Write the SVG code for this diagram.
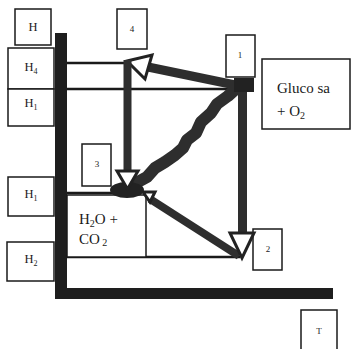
<svg xmlns="http://www.w3.org/2000/svg" width="351" height="349" viewBox="0 0 351 349">
<style>
.box{fill:#fff;stroke:#1a1a1a;stroke-width:1.5}
.lab{font-family:"Liberation Serif","Times New Roman",serif;fill:#1a1a1a}
.h{font-size:12.5px;text-anchor:middle}
.num{font-size:9px;text-anchor:middle}
.big{font-size:15px}
.thin{stroke:#1a1a1a;stroke-width:2.5;fill:none}
.bar{fill:#1e1e1e}
.shaft{stroke:#2e2e2e;fill:none}
.head{fill:#fff;stroke:#222;stroke-width:3;stroke-linejoin:miter}
</style>
<rect width="351" height="349" fill="#fff"/>

<g id="axes">
<rect class="bar" x="55" y="33" width="12" height="266"/>
<rect class="bar" x="55" y="288" width="278" height="11"/>
</g>

<g id="levels">
<line class="thin" x1="67" y1="63" x2="127" y2="63"/>
<line class="thin" x1="67" y1="89" x2="236" y2="89"/>
<line class="thin" x1="67" y1="193" x2="118" y2="193"/>
<line class="thin" x1="67" y1="257" x2="240" y2="257"/>
</g>

<g id="node-H"><rect class="box" x="15" y="9" width="36" height="36"/><text class="lab h" x="33" y="31">H</text></g>
<g id="node-H4"><rect class="box" x="8" y="48" width="46" height="41"/><text class="lab h" x="31" y="71">H<tspan font-size="8" dy="3">4</tspan></text></g>
<g id="node-H1a"><rect class="box" x="8" y="89" width="46" height="37"/><text class="lab h" x="31" y="107">H<tspan font-size="8" dy="3">1</tspan></text></g>
<g id="node-H1b"><rect class="box" x="8" y="177" width="46" height="39"/><text class="lab h" x="31" y="198">H<tspan font-size="8" dy="3">1</tspan></text></g>
<g id="node-H2"><rect class="box" x="7" y="242" width="47" height="39"/><text class="lab h" x="31" y="263">H<tspan font-size="8" dy="3">2</tspan></text></g>

<g id="node-4"><rect class="box" x="117" y="9" width="30" height="40"/><text class="lab num" x="132" y="32">4</text></g>
<g id="node-1"><rect class="box" x="226" y="35" width="29" height="42"/><text class="lab num" x="240" y="58">1</text></g>
<g id="node-3"><rect class="box" x="82" y="144" width="29" height="42"/><text class="lab num" x="97" y="167">3</text></g>
<g id="node-2"><rect class="box" x="253" y="229" width="29" height="41"/><text class="lab num" x="268" y="252">2</text></g>
<g id="node-T"><rect class="box" x="301" y="310" width="36" height="42"/><text class="lab num" x="319" y="334">T</text></g>

<g id="node-glucose"><rect class="box" x="262" y="59" width="88" height="70"/>
<text class="lab big" x="277" y="93">Gluco sa</text>
<text class="lab big" x="277" y="116">+ O<tspan font-size="10" dy="3">2</tspan></text></g>

<g id="node-h2o"><rect class="box" x="67" y="195" width="79" height="62"/>
<text class="lab big" x="79" y="224">H<tspan font-size="10" dy="3">2</tspan><tspan dy="-3">O +</tspan></text>
<text class="lab big" x="79" y="244">CO<tspan font-size="10" dy="2"> 2</tspan></text></g>

<g id="connectors">
<!-- 1 to 4 -->
<line class="shaft" x1="240" y1="86" x2="148" y2="67" stroke-width="9"/>
<polygon class="head" points="127,61 152,55 145,79"/>
<!-- 4 down to 3 -->
<line class="shaft" x1="127.5" y1="60" x2="127.5" y2="172" stroke-width="8"/>
<!-- 1 down to 2 -->
<line class="shaft" x1="242.5" y1="84" x2="242.5" y2="233" stroke-width="9"/>
<!-- 2 to 3 diagonal -->
<line class="shaft" x1="239" y1="256" x2="150" y2="199" stroke-width="8"/>
<polygon class="head" points="143,192 155,192 150,202" stroke-width="2.5"/>
<!-- wavy 3 to 1 -->
<path class="shaft" stroke="#333" stroke-width="12" stroke-linejoin="round" stroke-linecap="round" d="M122,190 L136,183 147,177 155,168 165,162 175,155 183,148 187,140 196,133 201,122 211,113 217,104 228,96 239,86"/>
<ellipse cx="127" cy="190" rx="17" ry="8" fill="#222"/>
<rect x="234" y="78" width="20" height="14" fill="#222"/>
<polygon class="head" points="117,171 138,171 127.5,189"/>
<polygon class="head" points="230,233 254,233 242,258"/>
</g>
</svg>
